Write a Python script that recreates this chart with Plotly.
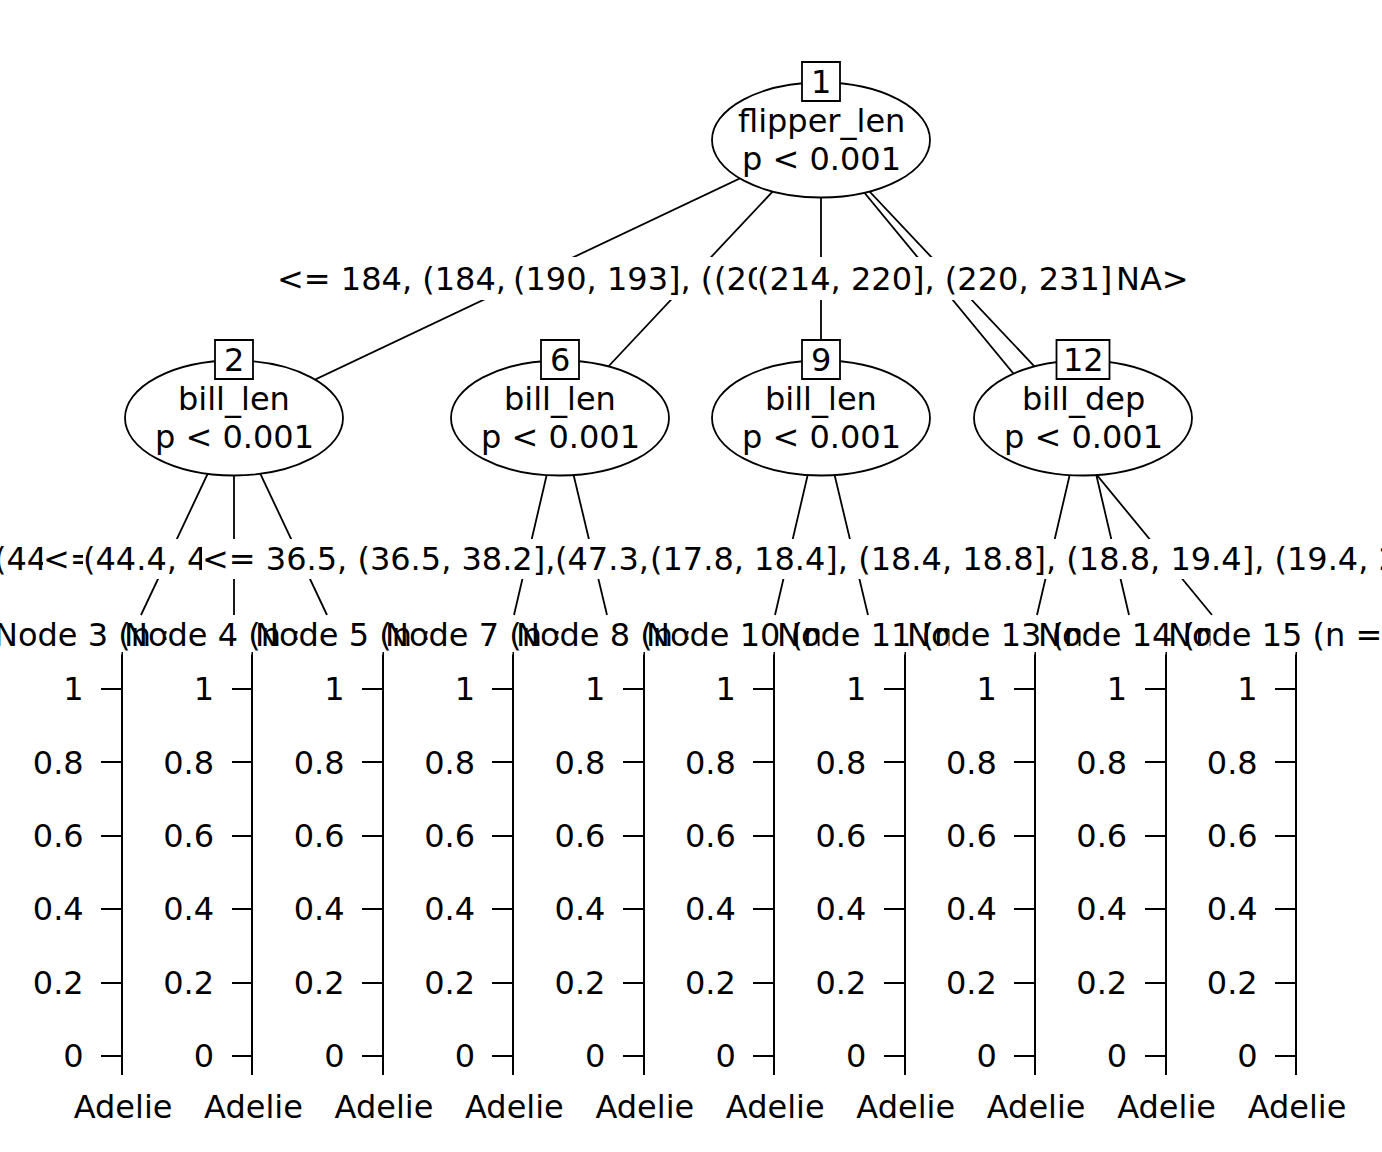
import plotly.graph_objects as go

W, H = 1382, 1152
FONT = dict(family="DejaVu Sans", size=32, color="black")
LW = 1.8

# ---------------- data ----------------
inner_ids = ["1", "2", "6", "9", "12"]
inner_vars = ["flipper_len", "bill_len", "bill_len", "bill_len", "bill_dep"]
inner_pvals = ["p < 0.001", "p < 0.001", "p < 0.001", "p < 0.001", "p < 0.001"]
terminal_ids = ["3", "4", "5", "7", "8", "10", "11", "13", "14", "15"]
terminal_labels = ["Node %s (n =" % t for t in terminal_ids]
species = ["Adelie"]
prop_ticks = [0, 0.2, 0.4, 0.6, 0.8, 1]
prop_ticklabels = ["0", "0.2", "0.4", "0.6", "0.8", "1"]

# visible fragments of the split labels (they overprint each other)
split_labels_lvl1 = ["<= 184, (184,\u00a0", "(190, 193], (", "(20", "(214, 220], (220, 231]", "NA>"]
split_labels_lvl2 = ["(44", "<=", "(44.4, 4", "<= 36.5, (36.5, 38.2],", "(47.3,",
                     "(17.8, 18.4], (18.4, 18.8], (18.8, 19.4], (19.4, 2"]

# ---------------- layout (pixel positions) ----------------
inner_pos = {"1": (821, 140), "2": (234, 418), "6": (560, 418), "9": (821, 418), "12": (1083, 418)}
ghost_pos = (1050, 418)
leaf_top = 615
leaf_edge_x = [141, 234, 327, 514, 607, 775, 868, 1037, 1129, 1212]
leaf_parent = ["2", "2", "2", "6", "6", "9", "9", "12", "12", "ghost"]
term_axis_x = [123 + 130.44 * k for k in range(10)]
lvl1_left = [277, 513, 714, 757, 1116]
lvl2_left = [-6, 43, 83, 202, 555, 650]
lvl1_y, lvl2_y, term_lab_y = 278, 559, 635
ell_rx, ell_ry = 109, 57.5

def pos(n):
    return ghost_pos if n == "ghost" else inner_pos[n]

def px(x):
    return x / W

def py(y):
    return 1 - y / H

# ---------------- edges ----------------
ex, ey = [], []
root = inner_pos["1"]
for child in ["2", "6", "9", "12", "ghost"]:
    cx, cy = pos(child)
    ex += [root[0], cx, None]
    ey += [root[1], cy, None]
for lx, p in zip(leaf_edge_x, leaf_parent):
    px_, py_ = pos(p)
    ex += [px_, lx, None]
    ey += [py_, leaf_top, None]

fig = go.Figure()
fig.add_trace(go.Scatter(x=ex, y=ey, mode="lines", line=dict(color="black", width=LW),
                         hoverinfo="skip", showlegend=False))

shapes = []
annotations = []

def ann(x, y, text, **kw):
    d = dict(x=px(x), y=py(y), text=text, showarrow=False, font=FONT,
             xref="paper", yref="paper", xanchor="center", yanchor="middle")
    d.update(kw)
    annotations.append(d)

# inner nodes
for nid, var, pv in zip(inner_ids, inner_vars, inner_pvals):
    cx, cy = inner_pos[nid]
    shapes.append(dict(type="circle", xref="x", yref="y", x0=cx - ell_rx, x1=cx + ell_rx,
                       y0=cy - ell_ry, y1=cy + ell_ry, line=dict(color="black", width=LW),
                       fillcolor="white", layer="above"))
    bw = 38 if len(nid) == 1 else 53
    by = cy - 58.5
    shapes.append(dict(type="rect", xref="x", yref="y", x0=cx - bw / 2, x1=cx + bw / 2,
                       y0=by - 19.5, y1=by + 19.5, line=dict(color="black", width=LW),
                       fillcolor="white", layer="above"))
    ann(cx, by, nid)
    ann(cx, cy - 19, var)
    ann(cx, cy + 19, pv)

# split labels with white boxes, drawn in order so later ones cover earlier ones
for txt, lx in zip(split_labels_lvl1, lvl1_left):
    ann(lx, lvl1_y, txt, xanchor="left", bgcolor="white", borderpad=0, borderwidth=0, height=43)
for txt, lx in zip(split_labels_lvl2, lvl2_left):
    ann(lx, lvl2_y, txt, xanchor="left", bgcolor="white", borderpad=0, borderwidth=0, height=40)

# terminal node headers: narrow white box then text
for txt, ax in zip(terminal_labels, term_axis_x):
    lx = ax - 131
    ann(lx + 44, term_lab_y, " ", xanchor="left", bgcolor="white", borderpad=0,
        width=84, height=38)
    ann(lx, term_lab_y, txt, xanchor="left")

layout = dict(
    width=W, height=H, autosize=False,
    margin=dict(l=0, r=0, t=0, b=0, pad=0, autoexpand=False),
    paper_bgcolor="white", plot_bgcolor="rgba(0,0,0,0)",
    showlegend=False,
    xaxis=dict(domain=[0, 1], range=[0, W], visible=False, fixedrange=True, automargin=False),
    yaxis=dict(domain=[0, 1], range=[H, 0], visible=False, fixedrange=True, automargin=False),
    shapes=shapes, annotations=annotations,
    font=FONT,
)

# terminal panels (barplot axes)
y_top_px, y_bot_px = 652, 1075
y0_px, y1_px = 1056, 689
scale = (y0_px - y1_px)
yr = [-(y_bot_px - y0_px) / scale, 1 + (y1_px - y_top_px) / scale]
panel_w = 60
for k, ax in enumerate(term_axis_x):
    i = k + 2
    fig.add_trace(go.Scatter(x=species, y=[None], xaxis="x%d" % i, yaxis="y%d" % i,
                             mode="markers", showlegend=False, hoverinfo="skip"))
    layout["xaxis%d" % i] = dict(domain=[ax / W, (ax + panel_w) / W], anchor="y%d" % i,
                                 type="category", range=[-0.001, 1], showline=False,
                                 showgrid=False, zeroline=False, ticks="", automargin=False,
                                 tickfont=FONT, ticklabelstandoff=10, fixedrange=True)
    layout["yaxis%d" % i] = dict(domain=[1 - y_bot_px / H, 1 - y_top_px / H], anchor="x%d" % i,
                                 range=yr, tickmode="array", tickvals=prop_ticks,
                                 ticktext=prop_ticklabels, ticks="outside", ticklen=20,
                                 tickwidth=LW, tickcolor="black", showline=True,
                                 linecolor="black", linewidth=LW, showgrid=False,
                                 zeroline=False, tickfont=FONT, ticklabelstandoff=11,
                                 automargin=False, fixedrange=True)

fig.update_layout(**layout)
fig.write_html("out.html", config={"displayModeBar": False},
               post_script="document.body.style.margin='0px';document.body.style.overflow='hidden';")
